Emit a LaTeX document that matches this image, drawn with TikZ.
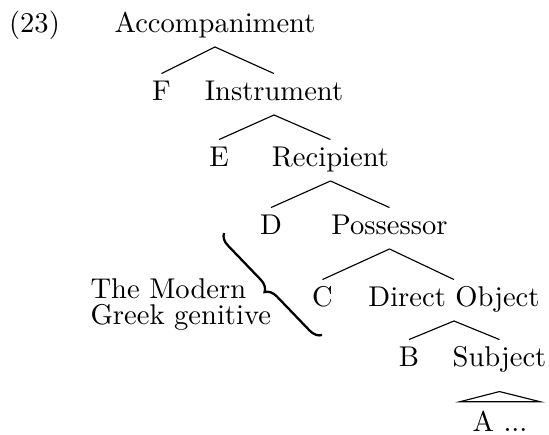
\documentclass[tikz,border=0pt]{standalone}
\usetikzlibrary{decorations.pathreplacing}
\begin{document}
\begin{tikzpicture}[
    x=0.35pt, y=-0.35pt,
    cat/.style={inner sep=2.4pt, text height=7pt, text depth=2.3pt, anchor=base},
    branch/.style={line width=0.4pt},
    genbrace/.style={decorate, decoration={brace, amplitude=4.1pt}, line width=0.8pt}
  ]
  \useasboundingbox (0,0) rectangle (549,435);
  \node[cat] (ex) at (34.5,33) {(23)};
  \node[cat] (acc) at (215,33) {Accompaniment};
  \node[cat] (f) at (161.5,101) {F};
  \node[cat] (ins) at (274,101) {Instrument};
  \node[cat] (e) at (219,167) {E};
  \node[cat] (rec) at (330.5,167) {Recipient};
  \node[cat] (d) at (271,235) {D};
  \node[cat] (pos) at (389.5,235) {Possessor};
  \node[cat] (c) at (322.5,307) {C};
  \node[cat] (dobj) at (454,307) {Direct Object};
  \node[cat] (b) at (409,367) {B};
  \node[cat] (subj) at (499.5,367) {Subject};
  \node[cat] (a) at (500,432) {A ...};
  \node[anchor=north west, inner sep=0pt, align=left,
        font=\fontsize{10pt}{8.9pt}\selectfont] (gen) at (90,278.5)
        {The Modern\\Greek genitive};
  \draw[branch] (acc.south) -- (f.north);
  \draw[branch] (acc.south) -- (ins.north);
  \draw[branch] (ins.south) -- (e.north);
  \draw[branch] (ins.south) -- (rec.north);
  \draw[branch] (rec.south) -- (d.north);
  \draw[branch] (rec.south) -- (pos.north);
  \draw[branch] (pos.south) -- (c.north);
  \draw[branch] (pos.south) -- (dobj.north);
  \draw[branch] (dobj.south) -- (b.north);
  \draw[branch] (dobj.south) -- (subj.north);
  % roof over A
  \coordinate (roof) at ([yshift=-3.7pt]subj.south);
  \draw[branch] (roof) -- ([shift={(-14pt,1pt)}]a.north)
    -- ([shift={(14pt,1pt)}]a.north) -- cycle;
  % brace
  \coordinate (braceTop) at (224,233);
  \coordinate (braceBot) at (322,335);
  \draw[genbrace] (braceBot) -- (braceTop);
\end{tikzpicture}
\end{document}
